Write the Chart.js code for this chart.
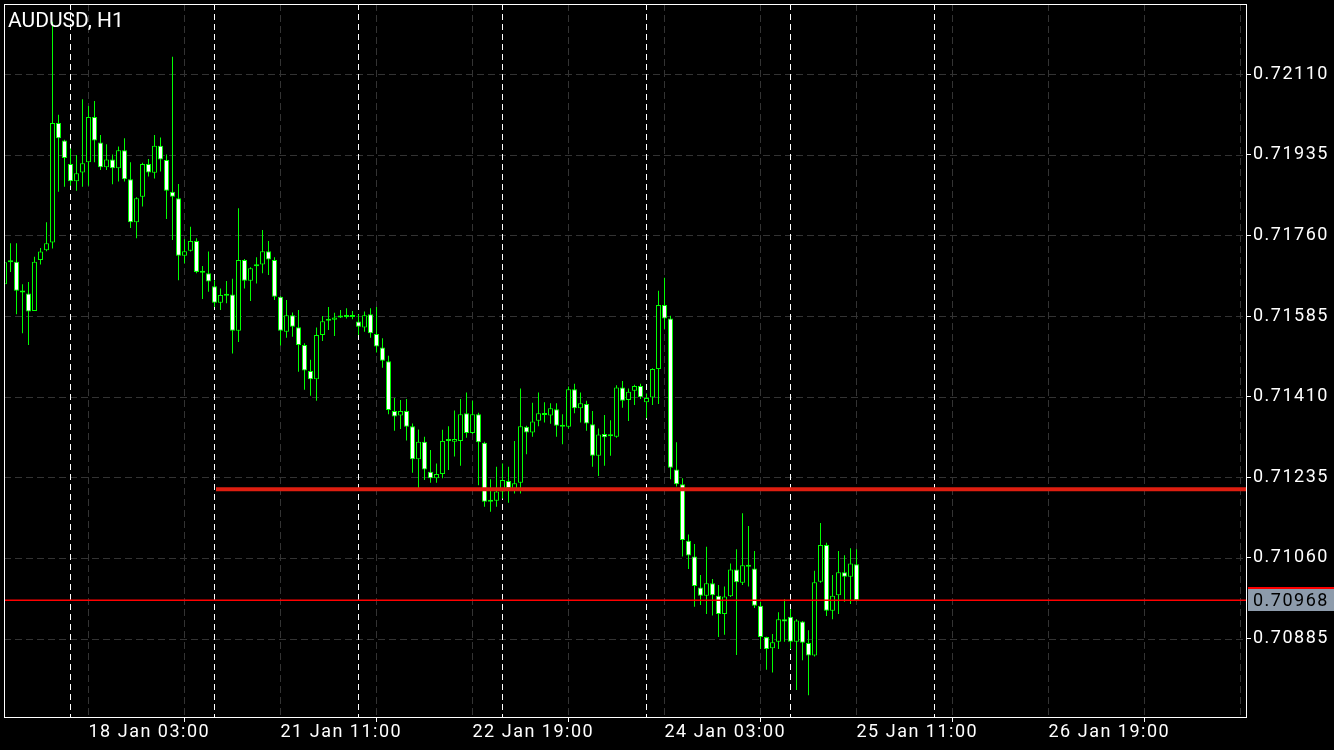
<!DOCTYPE html>
<html>
<head>
<meta charset="utf-8">
<script src="https://cdn.jsdelivr.net/npm/chart.js@4.4.1/dist/chart.umd.min.js"></script>
<style>
  html, body { margin: 0; padding: 0; background: #000; }
  canvas { display: block; }
</style>
</head>
<body>
<canvas id="chart" width="1334" height="750"></canvas>
<script>
// AUDUSD H1 - first bar is 17 Jan 13:00, one bar per hour (weekend skipped)
const symbolTitle = 'AUDUSD, H1';

const openP = [
  0.71654, 0.71703, 0.71703, 0.71637, 0.71634, 0.71596, 0.71707, 0.71728, 0.71745, 0.72004,
  0.71966, 0.71915, 0.71878, 0.71897, 0.71919, 0.72017, 0.71962, 0.71908, 0.71925, 0.71906,
  0.71945, 0.71882, 0.71789, 0.71844, 0.71915, 0.71896, 0.71955, 0.71924, 0.71855, 0.71841,
  0.71716, 0.71727, 0.71748, 0.71680, 0.71678, 0.71650, 0.71614, 0.71632, 0.71632, 0.71553,
  0.71707, 0.71662, 0.71694, 0.71697, 0.71726, 0.71707, 0.71627, 0.71551, 0.71587, 0.71561,
  0.71522, 0.71466, 0.71448, 0.71544, 0.71575, 0.71577, 0.71582, 0.71585, 0.71583, 0.71573,
  0.71560, 0.71589, 0.71546, 0.71517, 0.71487, 0.71379, 0.71369, 0.71379, 0.71346, 0.71274,
  0.71312, 0.71247, 0.71233, 0.71242, 0.71315, 0.71312, 0.71314, 0.71374, 0.71331, 0.71372,
  0.71310, 0.71183, 0.71184, 0.71204, 0.71227, 0.71210, 0.71223, 0.71345, 0.71332, 0.71358,
  0.71370, 0.71369, 0.71383, 0.71346, 0.71345, 0.71426, 0.71385, 0.71394, 0.71350, 0.71282,
  0.71329, 0.71324, 0.71323, 0.71430, 0.71403, 0.71423, 0.71433, 0.71398, 0.71408, 0.71470,
  0.71609, 0.71580, 0.71252, 0.71220, 0.71097, 0.71063, 0.70996, 0.70978, 0.71005, 0.70978,
  0.70938, 0.70977, 0.71035, 0.71006, 0.71044, 0.71037, 0.70956, 0.70888, 0.70864, 0.70878,
  0.70927, 0.70932, 0.70878, 0.70922, 0.70875, 0.70848, 0.71008, 0.71088, 0.70945, 0.70979,
  0.71029, 0.71019, 0.71046
];
const highP = [
  0.71709, 0.71743, 0.71743, 0.71654, 0.71659, 0.71714, 0.71733, 0.71789, 0.72224, 0.72022,
  0.71968, 0.71949, 0.71935, 0.72056, 0.72041, 0.72052, 0.71978, 0.71958, 0.71936, 0.71953,
  0.71971, 0.71919, 0.71843, 0.71918, 0.71926, 0.71978, 0.71973, 0.71936, 0.72148, 0.71872,
  0.71752, 0.71779, 0.71754, 0.71694, 0.71725, 0.71663, 0.71645, 0.71661, 0.71666, 0.71819,
  0.71709, 0.71691, 0.71713, 0.71772, 0.71748, 0.71713, 0.71628, 0.71620, 0.71593, 0.71598,
  0.71526, 0.71490, 0.71560, 0.71585, 0.71605, 0.71592, 0.71598, 0.71602, 0.71596, 0.71589,
  0.71595, 0.71602, 0.71605, 0.71537, 0.71499, 0.71407, 0.71403, 0.71405, 0.71352, 0.71339,
  0.71323, 0.71294, 0.71265, 0.71338, 0.71346, 0.71380, 0.71405, 0.71419, 0.71401, 0.71375,
  0.71312, 0.71231, 0.71258, 0.71265, 0.71258, 0.71314, 0.71428, 0.71347, 0.71397, 0.71419,
  0.71398, 0.71396, 0.71396, 0.71372, 0.71432, 0.71438, 0.71419, 0.71401, 0.71379, 0.71341,
  0.71370, 0.71359, 0.71435, 0.71444, 0.71428, 0.71436, 0.71438, 0.71417, 0.71472, 0.71640,
  0.71668, 0.71586, 0.71311, 0.71233, 0.71111, 0.71090, 0.71023, 0.71084, 0.71014, 0.71001,
  0.70998, 0.71048, 0.71079, 0.71157, 0.71129, 0.71075, 0.70964, 0.70889, 0.70895, 0.70942,
  0.70970, 0.70949, 0.70927, 0.70923, 0.70903, 0.71032, 0.71136, 0.71093, 0.71023, 0.71075,
  0.71066, 0.71081, 0.71079
];
const lowP = [
  0.71650, 0.71681, 0.71589, 0.71548, 0.71522, 0.71596, 0.71697, 0.71726, 0.71732, 0.71855,
  0.71866, 0.71868, 0.71857, 0.71866, 0.71868, 0.71919, 0.71902, 0.71902, 0.71871, 0.71877,
  0.71877, 0.71776, 0.71754, 0.71823, 0.71888, 0.71884, 0.71899, 0.71796, 0.71750, 0.71663,
  0.71700, 0.71725, 0.71678, 0.71622, 0.71638, 0.71605, 0.71598, 0.71613, 0.71504, 0.71529,
  0.71645, 0.71618, 0.71656, 0.71678, 0.71674, 0.71620, 0.71521, 0.71538, 0.71540, 0.71464,
  0.71425, 0.71412, 0.71401, 0.71531, 0.71555, 0.71542, 0.71581, 0.71580, 0.71578, 0.71544,
  0.71551, 0.71538, 0.71506, 0.71473, 0.71372, 0.71336, 0.71340, 0.71315, 0.71245, 0.71207,
  0.71229, 0.71223, 0.71223, 0.71233, 0.71251, 0.71280, 0.71260, 0.71321, 0.71329, 0.71218,
  0.71171, 0.71160, 0.71171, 0.71189, 0.71180, 0.71200, 0.71200, 0.71285, 0.71323, 0.71346,
  0.71354, 0.71351, 0.71323, 0.71307, 0.71341, 0.71374, 0.71354, 0.71336, 0.71258, 0.71238,
  0.71260, 0.71282, 0.71321, 0.71386, 0.71357, 0.71392, 0.71405, 0.71364, 0.71392, 0.71394,
  0.71557, 0.71231, 0.71215, 0.71063, 0.71036, 0.70954, 0.70958, 0.70938, 0.70935, 0.70888,
  0.70893, 0.70975, 0.70849, 0.71001, 0.70998, 0.70951, 0.70862, 0.70817, 0.70811, 0.70862,
  0.70878, 0.70862, 0.70773, 0.70838, 0.70762, 0.70846, 0.71006, 0.70934, 0.70927, 0.70938,
  0.70965, 0.70960, 0.70966
];
const closeP = [
  0.71702, 0.71702, 0.71640, 0.71636, 0.71595, 0.71703, 0.71725, 0.71743, 0.72004, 0.71971,
  0.71928, 0.71878, 0.71895, 0.71917, 0.72017, 0.71966, 0.71908, 0.71925, 0.71906, 0.71945,
  0.71882, 0.71789, 0.71841, 0.71915, 0.71897, 0.71955, 0.71925, 0.71857, 0.71844, 0.71716,
  0.71726, 0.71748, 0.71681, 0.71679, 0.71660, 0.71614, 0.71631, 0.71629, 0.71553, 0.71707,
  0.71662, 0.71689, 0.71693, 0.71726, 0.71708, 0.71627, 0.71553, 0.71587, 0.71562, 0.71522,
  0.71467, 0.71448, 0.71544, 0.71574, 0.71577, 0.71582, 0.71584, 0.71583, 0.71584, 0.71562,
  0.71587, 0.71548, 0.71519, 0.71488, 0.71381, 0.71367, 0.71379, 0.71345, 0.71274, 0.71312,
  0.71252, 0.71233, 0.71242, 0.71314, 0.71314, 0.71318, 0.71372, 0.71331, 0.71372, 0.71311,
  0.71182, 0.71182, 0.71204, 0.71229, 0.71211, 0.71222, 0.71346, 0.71332, 0.71356, 0.71374,
  0.71372, 0.71385, 0.71347, 0.71345, 0.71426, 0.71385, 0.71396, 0.71352, 0.71282, 0.71328,
  0.71322, 0.71325, 0.71430, 0.71401, 0.71421, 0.71433, 0.71409, 0.71407, 0.71470, 0.71609,
  0.71580, 0.71256, 0.71220, 0.71099, 0.71065, 0.70999, 0.70978, 0.71005, 0.70979, 0.70938,
  0.70976, 0.71035, 0.71007, 0.71044, 0.71041, 0.70956, 0.70888, 0.70862, 0.70877, 0.70927,
  0.70922, 0.70878, 0.70924, 0.70876, 0.70848, 0.71007, 0.71088, 0.70945, 0.70978, 0.71029,
  0.71019, 0.71048, 0.70968
];

// axes
const priceTicks = [0.70885, 0.71060, 0.71235, 0.71410, 0.71585, 0.71760, 0.71935, 0.72110];
const xTickBars = [14, 46, 78, 110, 142, 174, 206];
const xTickLabels = ['18 Jan 03:00', '21 Jan 11:00', '22 Jan 19:00', '24 Jan 03:00', '25 Jan 11:00', '26 Jan 19:00', ''];
const gridBars = [14, 30, 46, 62, 78, 94, 110, 126, 142, 158, 174, 190, 206];
const daySepBars = [11, 35, 59, 83, 107, 131, 155]; // midnight of each day

// horizontal line objects
const levelPrice = 0.71209;
const levelFromBar = 35.25;
const bidPrice = 0.70968;

const X_MIN = -1 / 12, X_MAX = 207 + 1 / 12;
const Y_MIN = 0.707124, Y_MAX = 0.722626;

const GREEN = '#00ff00';
const FONT = 'Roboto';

const bars = openP.map((o, i) => i);
const wickData = bars.map(i => ({ x: i, y: [lowP[i], highP[i]] }));
const bodyData = bars.map(i => ({ x: i, y: [openP[i], closeP[i]] }));
const bodyFill = bars.map(i => closeP[i] > openP[i] ? '#000000' : '#ffffff');

// no label half-height padding, the frame sits at the canvas edge
const noPad = s => { s.paddingTop = 0; s.paddingBottom = 0; s.paddingLeft = 0; s.paddingRight = 0; };

const mtPlugin = {
  id: 'mtLook',
  beforeDraw(chart) {
    const ctx = chart.ctx;
    ctx.save();
    ctx.fillStyle = '#000';
    ctx.fillRect(0, 0, chart.width, chart.height);
    ctx.restore();
    ctx.letterSpacing = '1.5px';
  },
  beforeDatasetsDraw(chart) {
    const { ctx, chartArea: a, scales } = chart;
    const x = scales.x, y = scales.y;
    ctx.save();
    ctx.lineWidth = 1;
    // grid
    ctx.strokeStyle = '#333333';
    ctx.setLineDash([7, 4]);
    priceTicks.forEach(p => {
      const py = Math.round(y.getPixelForValue(p)) + 0.5;
      ctx.beginPath(); ctx.moveTo(a.left, py); ctx.lineTo(a.right, py); ctx.stroke();
    });
    gridBars.forEach(b => {
      const px = Math.floor(x.getPixelForValue(b)) + 0.5;
      ctx.beginPath(); ctx.moveTo(px, a.top); ctx.lineTo(px, a.bottom); ctx.stroke();
    });
    // period separators
    ctx.strokeStyle = '#ffffff';
    ctx.setLineDash([6, 4]);
    daySepBars.forEach(b => {
      const px = Math.floor(x.getPixelForValue(b)) + 0.5;
      ctx.beginPath(); ctx.moveTo(px, a.top); ctx.lineTo(px, a.bottom); ctx.stroke();
    });
    ctx.restore();
  },
  afterDraw(chart) {
    const { ctx, chartArea: a, scales } = chart;
    ctx.save();
    // frame
    ctx.strokeStyle = '#ffffff';
    ctx.lineWidth = 1;
    ctx.strokeRect(a.left + 0.5, a.top + 0.5, a.right - a.left - 1, a.bottom - a.top - 1);
    // symbol title
    ctx.letterSpacing = '0px';
    ctx.fillStyle = '#ffffff';
    ctx.font = '21px ' + FONT;
    ctx.textBaseline = 'alphabetic';
    ctx.textAlign = 'left';
    ctx.fillText(symbolTitle, 8, 26.5);
    // bid price label
    const by = Math.round(scales.y.getPixelForValue(bidPrice));
    ctx.fillStyle = '#ff0000';
    ctx.fillRect(a.right + 1, by - 13, chart.width - a.right - 1, 2);
    ctx.fillStyle = '#8d9bab';
    ctx.fillRect(a.right + 1, by - 11, chart.width - a.right - 1, 22);
    ctx.letterSpacing = '1.5px';
    ctx.fillStyle = '#000000';
    ctx.font = '18px ' + FONT;
    ctx.textBaseline = 'middle';
    ctx.fillText(bidPrice.toFixed(5), a.right + 6, by + 1);
    ctx.restore();
  }
};

new Chart(document.getElementById('chart'), {
  type: 'bar',
  data: {
    datasets: [
      {
        type: 'line',
        data: [{ x: levelFromBar, y: levelPrice }, { x: X_MAX, y: levelPrice }],
        borderColor: '#de1e10',
        borderWidth: 4,
        pointRadius: 0,
        clip: 0,
        order: 0
      },
      {
        type: 'line',
        data: [{ x: X_MIN, y: bidPrice }, { x: X_MAX, y: bidPrice }],
        borderColor: '#ff0000',
        borderWidth: 1.5,
        pointRadius: 0,
        clip: 0,
        order: 0
      },
      {
        data: bodyData,
        backgroundColor: bodyFill,
        borderColor: GREEN,
        borderWidth: 1,
        borderSkipped: false,
        barThickness: 5,
        minBarLength: 2,
        inflateAmount: 0,
        grouped: false,
        clip: 0,
        order: 1
      },
      {
        data: wickData,
        backgroundColor: GREEN,
        borderWidth: 0,
        barThickness: 1,
        inflateAmount: 0,
        grouped: false,
        clip: 0,
        order: 2
      }
    ]
  },
  options: {
    responsive: false,
    animation: false,
    devicePixelRatio: 1,
    layout: { padding: { left: 4, top: 4, right: 0, bottom: 0 } },
    plugins: { legend: { display: false }, tooltip: { enabled: false }, title: { display: false } },
    scales: {
      x: {
        type: 'linear',
        position: 'bottom',
        min: X_MIN,
        max: X_MAX,
        offset: false,
        afterFit: s => { s.height = 32; noPad(s); },
        afterBuildTicks: s => { s.ticks = xTickBars.map(v => ({ value: v })); },
        grid: { display: true, drawOnChartArea: false, drawTicks: true, tickLength: 4, tickColor: '#ffffff', color: '#ffffff' },
        border: { display: false },
        ticks: {
          autoSkip: false,
          maxRotation: 0,
          align: 'start',
          padding: 0,
          color: '#ffffff',
          font: { family: FONT, size: 18 },
          callback: v => {
            const k = xTickBars.indexOf(v);
            return k >= 0 ? xTickLabels[k] : '';
          }
        }
      },
      y: {
        type: 'linear',
        position: 'right',
        min: Y_MIN,
        max: Y_MAX,
        beginAtZero: false,
        afterFit: s => { s.width = 87; noPad(s); },
        afterBuildTicks: s => { s.ticks = priceTicks.map(v => ({ value: v })); },
        grid: { display: true, drawOnChartArea: false, drawTicks: true, tickLength: 4, tickColor: '#ffffff', color: '#ffffff' },
        border: { display: false },
        ticks: {
          padding: 2,
          color: '#ffffff',
          font: { family: FONT, size: 18 },
          callback: v => v.toFixed(5)
        }
      }
    }
  },
  plugins: [mtPlugin]
});
</script>
</body>
</html>
